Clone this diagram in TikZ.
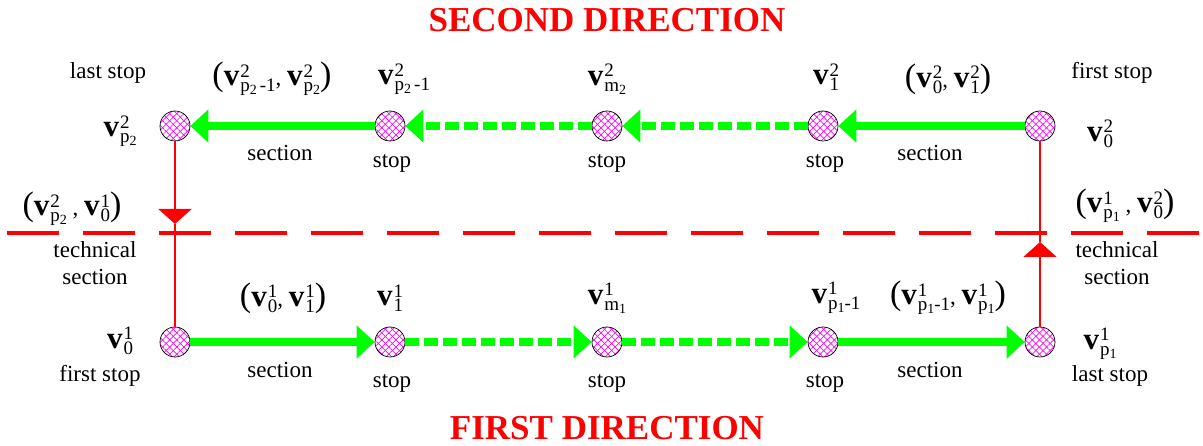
\documentclass[tikz,border=0pt]{standalone}
\usepackage{fontspec}
\setmainfont{Liberation Serif}
\usetikzlibrary{arrows.meta,patterns.meta}
\definecolor{lgreen}{RGB}{0,255,0}
\definecolor{hatch}{RGB}{255,0,255}
\definecolor{rred}{RGB}{255,0,0}
\newcommand\Vv[2]{{\fontsize{31}{31}\selectfont\textbf{v}}\kern1pt\makebox[0pt][l]{\raisebox{8.5pt}{\fontsize{19}{19}\selectfont #1}}\raisebox{-6pt}{\fontsize{19}{19}\selectfont #2}}
\newcommand\Pp[1]{p\raisebox{-3pt}{\fontsize{14}{14}\selectfont #1}}
\newcommand\LP{{\fontsize{34}{34}\selectfont(}}
\newcommand\RP{{\fontsize{34}{34}\selectfont)}}
\begin{document}
\begin{tikzpicture}[x=1pt,y=-1pt,
  stopn/.style={circle, minimum size=30pt, inner sep=0pt, draw=black, line width=0.7pt,
    preaction={fill=white},
    preaction={pattern={Lines[angle=45,distance=5pt,line width=0.7pt]}, pattern color=hatch},
    preaction={pattern={Lines[angle=-45,distance=5pt,line width=0.7pt]}, pattern color=hatch}},
  lbl/.style={inner sep=0pt, font=\fontsize{23}{27}\selectfont, align=center},
  title/.style={inner sep=0pt, text=rred, font=\fontsize{35}{35}\selectfont\bfseries},
  sec/.style={draw=lgreen, line width=8pt, -{Triangle[length=18pt,width=32pt]}},
  dsec/.style={sec, dash pattern=on 14pt off 5pt},
  tech/.style={draw=rred, line width=2pt},
  techarr/.style={tech, -{Triangle[length=15pt,width=33pt]}},
  sepline/.style={draw=rred, line width=4pt, dash pattern=on 52pt off 24pt}
]
\useasboundingbox (0,0) rectangle (1203,446);

% separator
\coordinate (sepL) at (7,233);
\coordinate (sepR) at (1203,233);
\draw[sepline] (sepL) -- (sepR);

% stops
\node[stopn] (t0) at (1040,126) {};
\node[stopn] (t1) at (823,126) {};
\node[stopn] (tm) at (607,126) {};
\node[stopn] (tq) at (390,126) {};
\node[stopn] (tp) at (175,126) {};
\node[stopn] (b0) at (175,342) {};
\node[stopn] (b1) at (390,342) {};
\node[stopn] (bm) at (607,342) {};
\node[stopn] (bq) at (823,342) {};
\node[stopn] (bp) at (1040,342) {};

% technical sections
\coordinate (lt) at (175,224);
\coordinate (rt) at (1040,242);
\draw[techarr] (tp) -- (lt);
\draw[tech] (lt) -- (b0);
\draw[techarr] (bp) -- (rt);
\draw[tech] (rt) -- (t0);

% sections
\draw[sec] (t0) -- (t1);
\draw[dsec] (t1) -- (tm);
\draw[dsec] (tm) -- (tq);
\draw[sec] (tq) -- (tp);
\draw[sec] (b0) -- (b1);
\draw[dsec] (b1) -- (bm);
\draw[dsec] (bm) -- (bq);
\draw[sec] (bq) -- (bp);

% titles
\node[title] (ttl2) at (607,20) {SECOND DIRECTION};
\node[title] (ttl1) at (607,428) {FIRST DIRECTION};

% top labels
\node[lbl] (l1) at (108,73) {last stop};
\node[lbl] (l2) at (120,131) {\Vv{2}{\Pp{2}}};
\node[lbl] (l3) at (272,79) {\LP\Vv{2}{\Pp{2}\,-1}, \Vv{2}{\Pp{2}}\RP};
\node[lbl] (l4) at (404,79) {\Vv{2}{\Pp{2}\,-1}};
\node[lbl] (l5) at (280,153) {section};
\node[lbl] (l6) at (392,163) {stop};
\node[lbl] (l7) at (607,79) {\Vv{2}{m\raisebox{-3pt}{\fontsize{14}{14}\selectfont 2}}};
\node[lbl] (l8) at (607,163) {stop};
\node[lbl] (l9) at (826,77) {\Vv{2}{1}};
\node[lbl] (l10) at (948,79) {\LP\Vv{2}{0}, \Vv{2}{1}\RP};
\node[lbl] (l11) at (825,163) {stop};
\node[lbl] (l12) at (930,153) {section};
\node[lbl] (l13) at (1112,73) {first stop};
\node[lbl] (l14) at (1100,134) {\Vv{2}{0}};

% middle labels
\node[lbl] (m1) at (72,209) {\LP\Vv{2}{\Pp{2}} , \Vv{1}{0}\RP};
\node[lbl] (m2) at (95,263) {technical\\section};
\node[lbl] (m3) at (1125,206) {\LP\Vv{1}{\Pp{1}} , \Vv{2}{0}\RP};
\node[lbl] (m4) at (1117,263) {technical\\section};

% bottom labels
\node[lbl] (b1l) at (283,298) {\LP\Vv{1}{0}, \Vv{1}{1}\RP};
\node[lbl] (b2l) at (390,298) {\Vv{1}{1}};
\node[lbl] (b3l) at (607,298) {\Vv{1}{m\raisebox{-3pt}{\fontsize{14}{14}\selectfont 1}}};
\node[lbl] (b4l) at (836,298) {\Vv{1}{\Pp{1}-1}};
\node[lbl] (b5l) at (948,298) {\LP\Vv{1}{\Pp{1}-1}, \Vv{1}{\Pp{1}}\RP};
\node[lbl] (b6l) at (120,341) {\Vv{1}{0}};
\node[lbl] (b7l) at (100,376) {first stop};
\node[lbl] (b8l) at (280,370) {section};
\node[lbl] (b9l) at (392,383) {stop};
\node[lbl] (b10l) at (607,383) {stop};
\node[lbl] (b11l) at (825,383) {stop};
\node[lbl] (b12l) at (930,370) {section};
\node[lbl] (b13l) at (1100,344) {\Vv{1}{\Pp{1}}};
\node[lbl] (b14l) at (1110,376) {last stop};
\end{tikzpicture}
\end{document}
